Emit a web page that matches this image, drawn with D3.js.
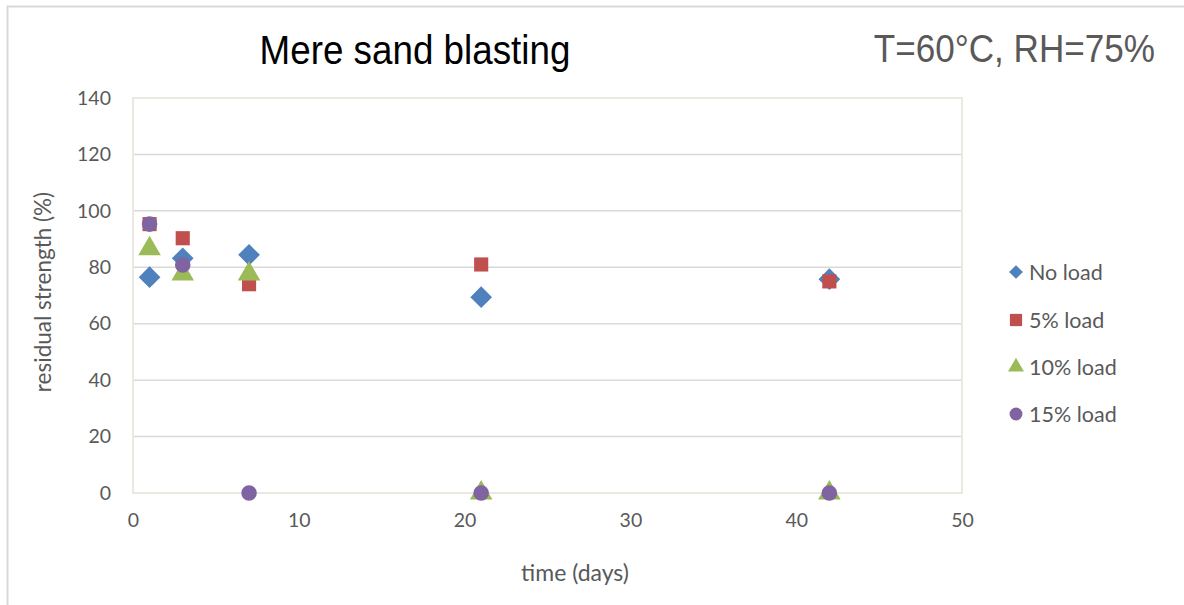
<!DOCTYPE html>
<html>
<head>
<meta charset="utf-8">
<script src="https://cdn.jsdelivr.net/npm/d3@7"></script>
<style>
  body { margin: 0; background: #fff; }
  #chart { width: 1184px; height: 605px; }
</style>
</head>
<body>
<div id="chart"></div>
<script>
// data
const days = [1, 3, 7, 21, 42];
const noLoad = [76.5, 83.2, 84.4, 69.4, 75.8];
const load5 = [95.3, 90.3, 74.0, 81.0, 75.0];
const load10 = [86.6, 77.6, 77.6, 0, 0];
const load15 = [95.3, 80.8, 0, 0, 0];
const seriesNames = ["No load", "5% load", "10% load", "15% load"];
const seriesColors = ["#4f81bd", "#c0504d", "#9bbb59", "#8064a2"];
const xTicks = [0, 10, 20, 30, 40, 50];
const yTicks = [0, 20, 40, 60, 80, 100, 120, 140];

const allSeries = [noLoad, load5, load10, load15];

const margin = {top: 98, right: 222, bottom: 112, left: 133};
const width = 1184 - margin.left - margin.right;
const height = 605 - margin.top - margin.bottom;

const svg = d3.select("#chart").append("svg")
    .attr("width", 1184)
    .attr("height", 605);

// outer chart border
svg.append("rect")
    .attr("x", 7.5).attr("y", 6.5)
    .attr("width", 1184).attr("height", 620)
    .attr("fill", "none")
    .attr("stroke", "#d9d9d9")
    .attr("stroke-width", 2);

const g = svg.append("g")
    .attr("transform", "translate(" + margin.left + "," + margin.top + ")");

const x = d3.scaleLinear().domain([0, 50]).range([0, width]);
const y = d3.scaleLinear().domain([0, 140]).range([height, 0]);

// gridlines
g.selectAll(".grid")
    .data(yTicks.filter(d => d > 0 && d < 140))
    .enter().append("line")
    .attr("x1", 0).attr("x2", width)
    .attr("y1", d => y(d)).attr("y2", d => y(d))
    .attr("stroke", "#d9d9d9")
    .attr("stroke-width", 1.5);

// plot area frame
g.append("rect")
    .attr("x", 0).attr("y", 0)
    .attr("width", width).attr("height", height)
    .attr("fill", "none")
    .attr("stroke", "#ebe8df")
    .attr("stroke-width", 2);

const tickFont = "Lato, 'Open Sans', sans-serif";

// y axis
const yAxis = d3.axisLeft(y).tickValues(yTicks).tickSize(0).tickPadding(22);
const yG = g.append("g").call(yAxis);
yG.select(".domain").remove();
yG.selectAll("text")
    .attr("fill", "#595959")
    .style("font-family", tickFont)
    .style("font-size", "19.5px");

// x axis
const xAxis = d3.axisBottom(x).tickValues(xTicks).tickSize(0).tickPadding(20);
const xG = g.append("g")
    .attr("transform", "translate(0," + height + ")")
    .call(xAxis);
xG.select(".domain").remove();
xG.selectAll("text")
    .attr("fill", "#595959")
    .style("font-family", tickFont)
    .style("font-size", "19.5px");

// axis titles
svg.append("text")
    .attr("x", 575)
    .attr("y", 581)
    .attr("text-anchor", "middle")
    .attr("fill", "#595959")
    .style("font-family", tickFont)
    .style("font-size", "23px")
    .text("time (days)");

svg.append("text")
    .attr("transform", "translate(51," + 292 + ") rotate(-90)")
    .attr("text-anchor", "middle")
    .attr("fill", "#595959")
    .style("font-family", tickFont)
    .style("font-size", "22.5px")
    .text("residual strength (%)");

// titles (narrow, tall lettering as in the original)
svg.append("text")
    .attr("transform", "translate(415,64) scale(0.92,1)")
    .attr("text-anchor", "middle")
    .attr("fill", "#000")
    .style("font-family", "'Liberation Sans', Arial, sans-serif")
    .style("font-size", "40px")
    .text("Mere sand blasting");

svg.append("text")
    .attr("transform", "translate(1155,62) scale(0.9,1)")
    .attr("text-anchor", "end")
    .attr("fill", "#595959")
    .style("font-family", "'Liberation Sans', Arial, sans-serif")
    .style("font-size", "39px")
    .text("T=60°C, RH=75%");

// marker symbols
const symbols = [
    d3.symbol().type(d3.symbolDiamond2).size(300),
    d3.symbol().type(d3.symbolSquare).size(200),
    d3.symbol().type(d3.symbolTriangle).size(220),
    d3.symbol().type(d3.symbolCircle).size(190)
];

allSeries.forEach((vals, i) => {
    g.selectAll(".s" + i)
        .data(days.map((d, j) => ({x: d, y: vals[j]})))
        .enter().append("path")
        .attr("class", "s" + i)
        .attr("d", symbols[i])
        .attr("transform", d => "translate(" + x(d.x) + "," + y(d.y) + ")")
        .attr("fill", seriesColors[i]);
});

// legend
const legendY = [272, 320, 367, 414];
const legendSymbols = [
    d3.symbol().type(d3.symbolDiamond2).size(120),
    d3.symbol().type(d3.symbolSquare).size(150),
    d3.symbol().type(d3.symbolTriangle).size(110),
    d3.symbol().type(d3.symbolCircle).size(130)
];
const legend = svg.append("g");
seriesNames.forEach((name, i) => {
    legend.append("path")
        .attr("d", legendSymbols[i])
        .attr("transform", "translate(1016," + legendY[i] + ")")
        .attr("fill", seriesColors[i]);
    legend.append("text")
        .attr("x", 1029).attr("y", legendY[i])
        .attr("dy", "0.36em")
        .attr("fill", "#595959")
        .style("font-family", tickFont)
        .style("font-size", "21.5px")
        .text(name);
});
</script>
</body>
</html>
